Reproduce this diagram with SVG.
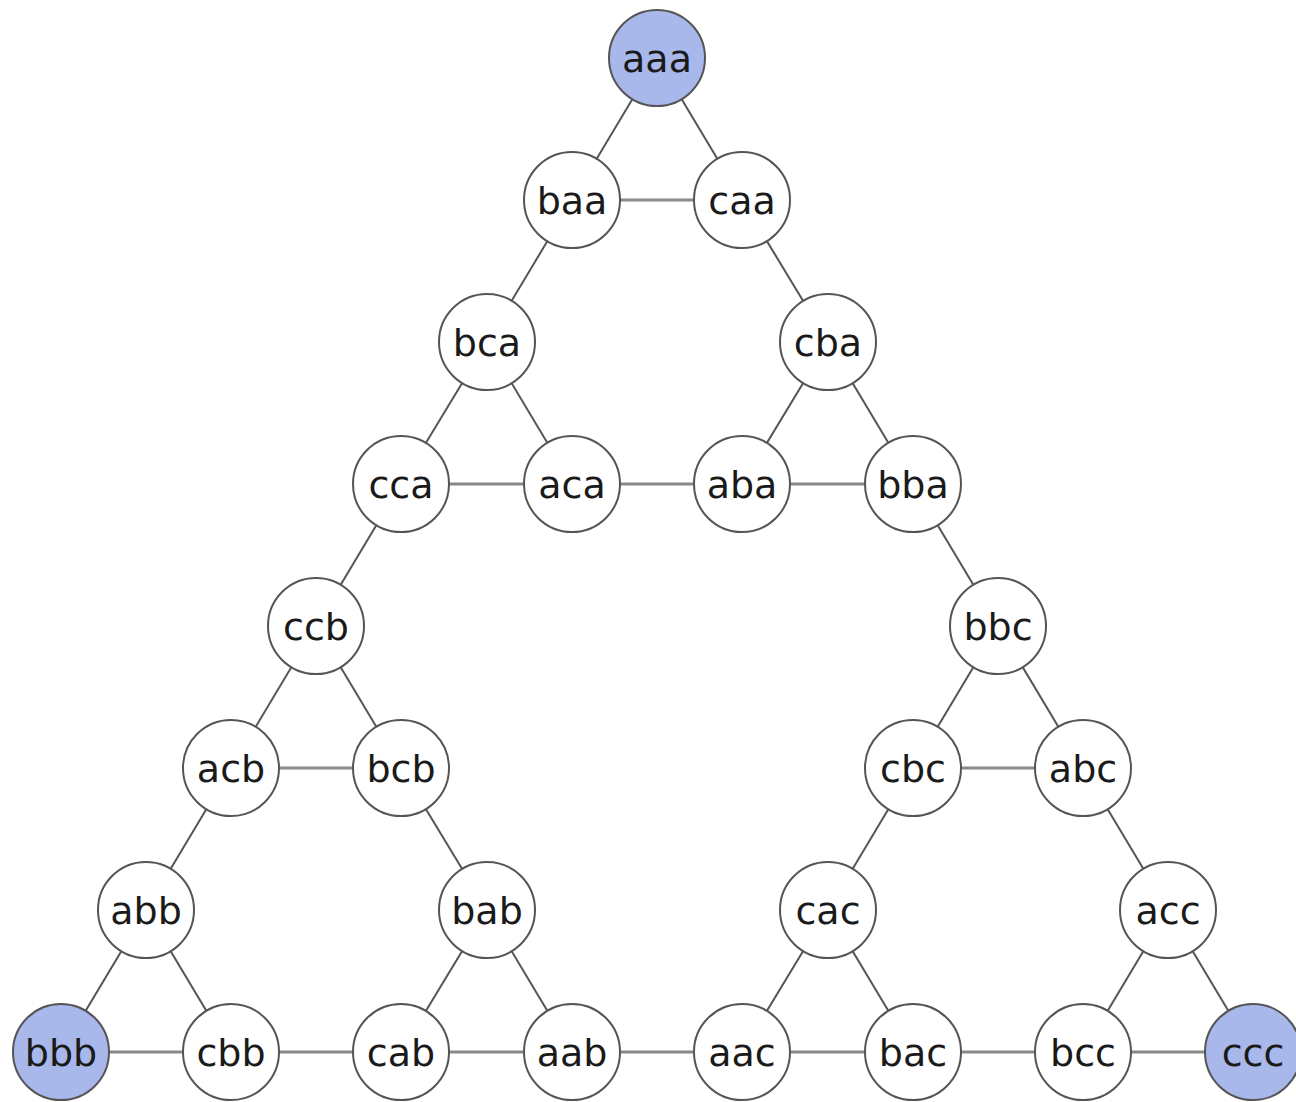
<svg xmlns="http://www.w3.org/2000/svg" width="1296" height="1102" viewBox="0 0 1296 1102">
<style>
.n circle{fill:#fff;stroke:#555;stroke-width:2}
.n.h circle{fill:#a8b8ea}
.n text{font-family:"DejaVu Sans",sans-serif;font-size:38px;fill:#1a1a1a;text-anchor:middle}
.e line{stroke:#555;stroke-width:2}
.e line.x{stroke:#888;stroke-width:3}
</style>
<rect width="1296" height="1102" fill="#fff"/>
<g class="e">
<line x1="657" y1="58" x2="572" y2="200"/>
<line x1="657" y1="58" x2="742" y2="200"/>
<line class="x" x1="572" y1="200" x2="742" y2="200"/>
<line x1="572" y1="200" x2="487" y2="342"/>
<line x1="742" y1="200" x2="828" y2="342"/>
<line x1="487" y1="342" x2="401" y2="484"/>
<line x1="487" y1="342" x2="572" y2="484"/>
<line class="x" x1="401" y1="484" x2="572" y2="484"/>
<line class="x" x1="572" y1="484" x2="742" y2="484"/>
<line x1="828" y1="342" x2="742" y2="484"/>
<line x1="828" y1="342" x2="913" y2="484"/>
<line class="x" x1="742" y1="484" x2="913" y2="484"/>
<line x1="401" y1="484" x2="316" y2="626"/>
<line x1="913" y1="484" x2="998" y2="626"/>
<line x1="316" y1="626" x2="231" y2="768"/>
<line x1="316" y1="626" x2="401" y2="768"/>
<line class="x" x1="231" y1="768" x2="401" y2="768"/>
<line x1="998" y1="626" x2="913" y2="768"/>
<line x1="998" y1="626" x2="1083" y2="768"/>
<line class="x" x1="913" y1="768" x2="1083" y2="768"/>
<line x1="231" y1="768" x2="146" y2="910"/>
<line x1="401" y1="768" x2="487" y2="910"/>
<line x1="913" y1="768" x2="828" y2="910"/>
<line x1="1083" y1="768" x2="1168" y2="910"/>
<line x1="146" y1="910" x2="61" y2="1052"/>
<line x1="146" y1="910" x2="231" y2="1052"/>
<line x1="487" y1="910" x2="401" y2="1052"/>
<line x1="487" y1="910" x2="572" y2="1052"/>
<line x1="828" y1="910" x2="742" y2="1052"/>
<line x1="828" y1="910" x2="913" y2="1052"/>
<line x1="1168" y1="910" x2="1083" y2="1052"/>
<line x1="1168" y1="910" x2="1253" y2="1052"/>
<line class="x" x1="61" y1="1052" x2="1253" y2="1052"/>
</g>
<g id="aaa" class="n h"><circle cx="657" cy="58" r="48"/><text x="657" y="72">aaa</text></g>
<g id="baa" class="n"><circle cx="572" cy="200" r="48"/><text x="572" y="214">baa</text></g>
<g id="caa" class="n"><circle cx="742" cy="200" r="48"/><text x="742" y="214">caa</text></g>
<g id="bca" class="n"><circle cx="487" cy="342" r="48"/><text x="487" y="356">bca</text></g>
<g id="cba" class="n"><circle cx="828" cy="342" r="48"/><text x="828" y="356">cba</text></g>
<g id="cca" class="n"><circle cx="401" cy="484" r="48"/><text x="401" y="498">cca</text></g>
<g id="aca" class="n"><circle cx="572" cy="484" r="48"/><text x="572" y="498">aca</text></g>
<g id="aba" class="n"><circle cx="742" cy="484" r="48"/><text x="742" y="498">aba</text></g>
<g id="bba" class="n"><circle cx="913" cy="484" r="48"/><text x="913" y="498">bba</text></g>
<g id="ccb" class="n"><circle cx="316" cy="626" r="48"/><text x="316" y="640">ccb</text></g>
<g id="bbc" class="n"><circle cx="998" cy="626" r="48"/><text x="998" y="640">bbc</text></g>
<g id="acb" class="n"><circle cx="231" cy="768" r="48"/><text x="231" y="782">acb</text></g>
<g id="bcb" class="n"><circle cx="401" cy="768" r="48"/><text x="401" y="782">bcb</text></g>
<g id="cbc" class="n"><circle cx="913" cy="768" r="48"/><text x="913" y="782">cbc</text></g>
<g id="abc" class="n"><circle cx="1083" cy="768" r="48"/><text x="1083" y="782">abc</text></g>
<g id="abb" class="n"><circle cx="146" cy="910" r="48"/><text x="146" y="924">abb</text></g>
<g id="bab" class="n"><circle cx="487" cy="910" r="48"/><text x="487" y="924">bab</text></g>
<g id="cac" class="n"><circle cx="828" cy="910" r="48"/><text x="828" y="924">cac</text></g>
<g id="acc" class="n"><circle cx="1168" cy="910" r="48"/><text x="1168" y="924">acc</text></g>
<g id="bbb" class="n h"><circle cx="61" cy="1052" r="48"/><text x="61" y="1066">bbb</text></g>
<g id="cbb" class="n"><circle cx="231" cy="1052" r="48"/><text x="231" y="1066">cbb</text></g>
<g id="cab" class="n"><circle cx="401" cy="1052" r="48"/><text x="401" y="1066">cab</text></g>
<g id="aab" class="n"><circle cx="572" cy="1052" r="48"/><text x="572" y="1066">aab</text></g>
<g id="aac" class="n"><circle cx="742" cy="1052" r="48"/><text x="742" y="1066">aac</text></g>
<g id="bac" class="n"><circle cx="913" cy="1052" r="48"/><text x="913" y="1066">bac</text></g>
<g id="bcc" class="n"><circle cx="1083" cy="1052" r="48"/><text x="1083" y="1066">bcc</text></g>
<g id="ccc" class="n h"><circle cx="1253" cy="1052" r="48"/><text x="1253" y="1066">ccc</text></g>
</svg>
